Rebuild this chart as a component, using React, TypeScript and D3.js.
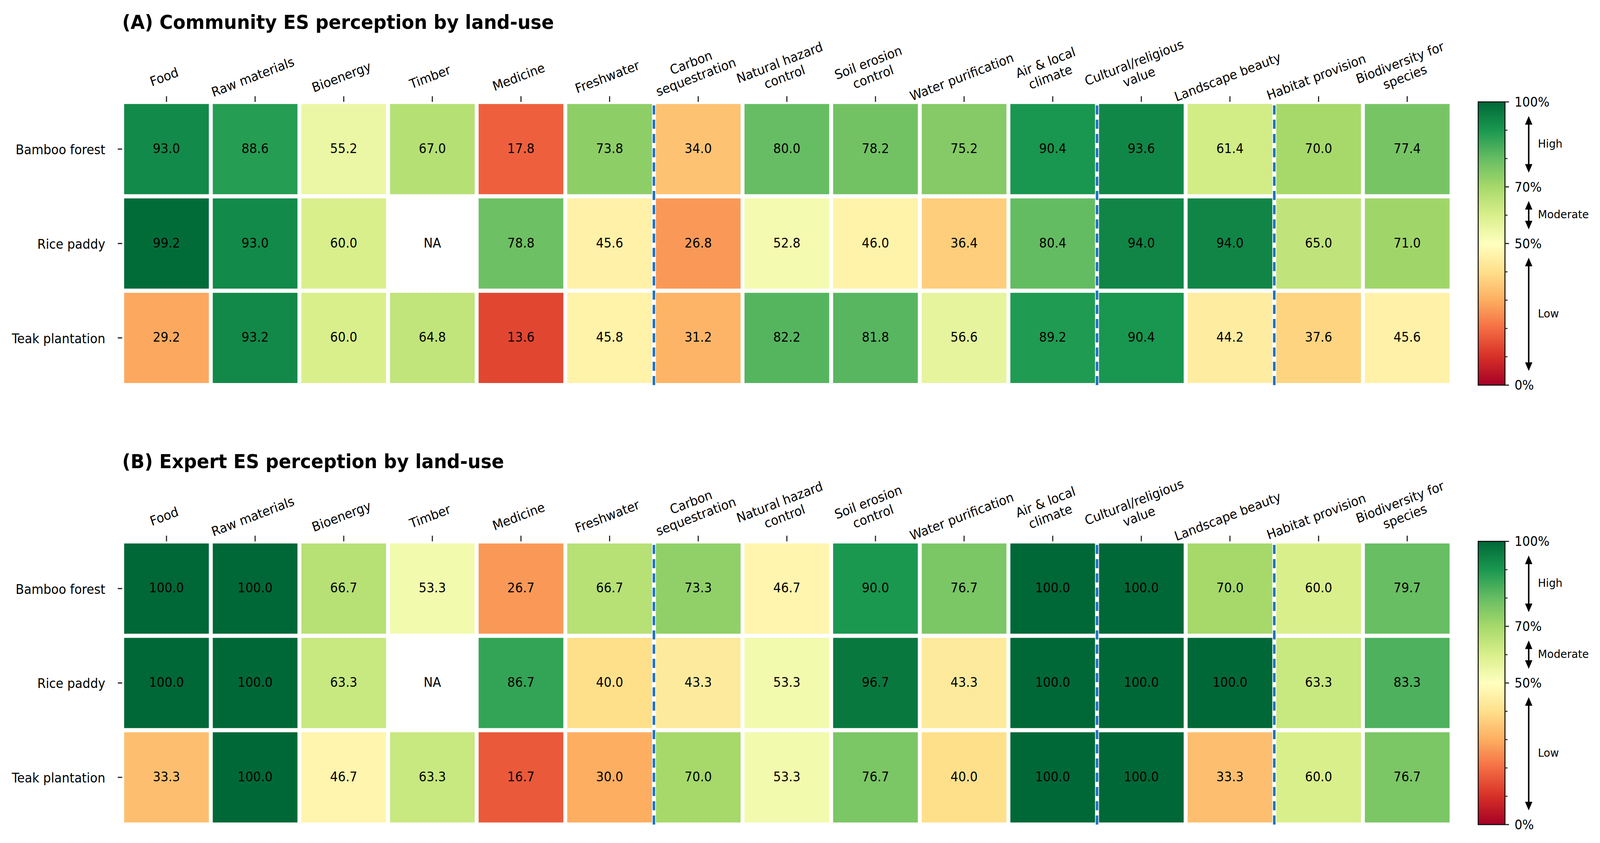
import React from "react";
import * as d3 from "d3";

// ---------- data ----------
const SERVICES = [
  "Food",
  "Raw materials",
  "Bioenergy",
  "Timber",
  "Medicine",
  "Freshwater",
  "Carbon\nsequestration",
  "Natural hazard\ncontrol",
  "Soil erosion\ncontrol",
  "Water purification",
  "Air & local\nclimate",
  "Cultural/religious\nvalue",
  "Landscape beauty",
  "Habitat provision",
  "Biodiversity for\nspecies",
];
const LAND_USES = ["Bamboo forest", "Rice paddy", "Teak plantation"];

const communityBamboo = [93.0, 88.6, 55.2, 67.0, 17.8, 73.8, 34.0, 80.0, 78.2, 75.2, 90.4, 93.6, 61.4, 70.0, 77.4];
const communityRice = [99.2, 93.0, 60.0, null, 78.8, 45.6, 26.8, 52.8, 46.0, 36.4, 80.4, 94.0, 94.0, 65.0, 71.0];
const communityTeak = [29.2, 93.2, 60.0, 64.8, 13.6, 45.8, 31.2, 82.2, 81.8, 56.6, 89.2, 90.4, 44.2, 37.6, 45.6];

const expertBamboo = [100.0, 100.0, 66.7, 53.3, 26.7, 66.7, 73.3, 46.7, 90.0, 76.7, 100.0, 100.0, 70.0, 60.0, 79.7];
const expertRice = [100.0, 100.0, 63.3, null, 86.7, 40.0, 43.3, 53.3, 96.7, 43.3, 100.0, 100.0, 100.0, 63.3, 83.3];
const expertTeak = [33.3, 100.0, 46.7, 63.3, 16.7, 30.0, 70.0, 53.3, 76.7, 40.0, 100.0, 100.0, 33.3, 60.0, 76.7];

const GROUP_BREAKS = [6, 11, 13];
const CBAR_MAJOR = [0, 50, 70, 100];
const CBAR_MINOR = [10, 20, 30, 40, 60, 80, 90];
const BANDS = [
  { label: "High", lo: 70, hi: 100 },
  { label: "Moderate", lo: 50, hi: 70 },
  { label: "Low", lo: 0, hi: 50 },
];

const PANELS = [
  { title: "(A) Community ES perception by land-use", rows: [communityBamboo, communityRice, communityTeak] },
  { title: "(B) Expert ES perception by land-use", rows: [expertBamboo, expertRice, expertTeak] },
];

// matplotlib RdYlGn control colours
const RDYLGN = ["#a50026", "#d73027", "#f46d43", "#fdae61", "#fee08b", "#ffffbf", "#d9ef8b", "#a6d96a", "#66bd63", "#1a9850", "#006837"];

// ---------- layout ----------
const W = 4361;
const H = 2159;
const FONT = "DejaVu Sans, Verdana, sans-serif";
const FS = 33.33;
const TITLE_FS = 50;
const BAND_FS = 29.2;
const AX_LEFT = 333;
const AX_RIGHT = 3956.3;
const AX_H = 725.3;
const PANEL_TOPS = [261, 1386.5];
const GAP = 10.7;
const CB_LEFT = 4029;
const CB_RIGHT = 4102;
const ARROW_X = 4166.7;
const ROT = 20;

const color = d3
  .scaleLinear<string>()
  .domain(d3.range(0, 101, 10))
  .range(RDYLGN)
  .interpolate(d3.interpolateRgb)
  .clamp(true);

function XLabel({ label, cx, axTop }: { label: string; cx: number; axTop: number }) {
  // matplotlib-like: ha=center, va=bottom, rotation_mode='anchor'
  const lines = label.split("\n");
  const lineStep = 1.17 * FS;
  const descent = 0.21 * FS;
  const n = lines.length;
  const ay = axTop - 46.6;
  return (
    <g transform={`translate(${cx},${ay}) rotate(${-ROT})`}>
      {lines.map((ln, i) => (
        <text
          key={i}
          x={0}
          y={-descent - (n - 1 - i) * lineStep}
          textAnchor="middle"
          fontSize={FS}
          fontFamily={FONT}
          fill="#000"
        >
          {ln}
        </text>
      ))}
    </g>
  );
}

function Panel({ title, rows, top }: { title: string; rows: (number | null)[][]; top: number }) {
  const x = d3.scaleLinear().domain([0, SERVICES.length]).range([AX_LEFT, AX_RIGHT]);
  const y = d3.scaleLinear().domain([0, LAND_USES.length]).range([top, top + AX_H]);
  const cb = d3.scaleLinear().domain([0, 100]).range([top + AX_H, top]);
  const bottom = top + AX_H;
  const cw = x(1) - x(0);
  const ch = y(1) - y(0);

  return (
    <g>
      <text x={AX_LEFT} y={top - 187} fontSize={TITLE_FS} fontWeight="bold" fontFamily={FONT} fill="#000">
        {title}
      </text>

      {/* cells */}
      {rows.map((row, r) =>
        row.map((v, c) => (
          <g key={`${r}-${c}`}>
            {v !== null && (
              <rect x={x(c) + GAP / 2} y={y(r) + GAP / 2} width={cw - GAP} height={ch - GAP} fill={color(v)} />
            )}
            <text
              x={x(c + 0.5)}
              y={y(r + 0.5) + 0.3 * FS}
              textAnchor="middle"
              fontSize={FS}
              fontFamily={FONT}
              fill="#000"
            >
              {v === null ? "NA" : v.toFixed(1)}
            </text>
          </g>
        ))
      )}

      {/* group separators */}
      {GROUP_BREAKS.map((b) => (
        <line
          key={b}
          x1={x(b)}
          x2={x(b)}
          y1={bottom}
          y2={top}
          stroke="#1f72c0"
          strokeWidth={7}
          strokeDasharray="23.3 13.17"
        />
      ))}

      {/* top ticks and labels */}
      {SERVICES.map((s, c) => (
        <g key={s}>
          <line x1={x(c + 0.5)} x2={x(c + 0.5)} y1={top} y2={top - 14.6} stroke="#222" strokeWidth={3} />
          <XLabel label={s} cx={x(c + 0.5)} axTop={top} />
        </g>
      ))}

      {/* row ticks and labels */}
      {LAND_USES.map((lu, r) => (
        <g key={lu}>
          <line x1={AX_LEFT} x2={AX_LEFT - 12} y1={y(r + 0.5)} y2={y(r + 0.5)} stroke="#222" strokeWidth={3} />
          <text
            x={287}
            y={y(r + 0.5) + 0.4 * FS}
            textAnchor="end"
            fontSize={FS}
            fontFamily={FONT}
            fill="#000"
          >
            {lu}
          </text>
        </g>
      ))}

      {/* colorbar */}
      <rect x={CB_LEFT} y={top} width={CB_RIGHT - CB_LEFT} height={AX_H} fill="url(#rdylgn)" />
      <rect x={CB_LEFT} y={top} width={CB_RIGHT - CB_LEFT} height={AX_H} fill="none" stroke="#111" strokeWidth={2.8} />
      {CBAR_MINOR.map((t) => (
        <line key={t} x1={CB_RIGHT} x2={CB_RIGHT + 7} y1={cb(t)} y2={cb(t)} stroke="#222" strokeWidth={2.5} />
      ))}
      {CBAR_MAJOR.map((t) => (
        <g key={t}>
          <line x1={CB_RIGHT} x2={CB_RIGHT + 11} y1={cb(t)} y2={cb(t)} stroke="#222" strokeWidth={2.8} />
          <text x={4128} y={cb(t) + 0.36 * FS} fontSize={FS} fontFamily={FONT} fill="#000">
            {`${t}%`}
          </text>
        </g>
      ))}

      {/* band arrows */}
      {BANDS.map((b) => {
        const y1 = cb(b.hi - 5);
        const y2 = cb(b.lo + 5);
        const hl = 22;
        const hw = 10;
        return (
          <g key={b.label}>
            <line x1={ARROW_X} x2={ARROW_X} y1={y1 + hl - 2} y2={y2 - hl + 2} stroke="#000" strokeWidth={4} />
            <path d={`M${ARROW_X},${y1} L${ARROW_X - hw},${y1 + hl} L${ARROW_X + hw},${y1 + hl} Z`} fill="#000" />
            <path d={`M${ARROW_X},${y2} L${ARROW_X - hw},${y2 - hl} L${ARROW_X + hw},${y2 - hl} Z`} fill="#000" />
            <text
              x={4191.7}
              y={cb((b.lo + b.hi) / 2) + 0.275 * BAND_FS}
              fontSize={BAND_FS}
              fontFamily={FONT}
              fill="#000"
            >
              {b.label}
            </text>
          </g>
        );
      })}
    </g>
  );
}

export default function App() {
  const stops = d3.range(0, 101, 2);
  return (
    <svg
      viewBox={`0 0 ${W} ${H}`}
      preserveAspectRatio="none"
      style={{ position: "fixed", left: 0, top: 0, width: "100vw", height: "100vh", background: "#fff", display: "block" }}
    >
      <defs>
        <linearGradient id="rdylgn" x1="0" y1="1" x2="0" y2="0">
          {stops.map((s) => (
            <stop key={s} offset={`${s}%`} stopColor={color(s)} />
          ))}
        </linearGradient>
      </defs>
      <rect x={0} y={0} width={W} height={H} fill="#fff" />
      {PANELS.map((p, i) => (
        <Panel key={p.title} title={p.title} rows={p.rows} top={PANEL_TOPS[i]} />
      ))}
    </svg>
  );
}
